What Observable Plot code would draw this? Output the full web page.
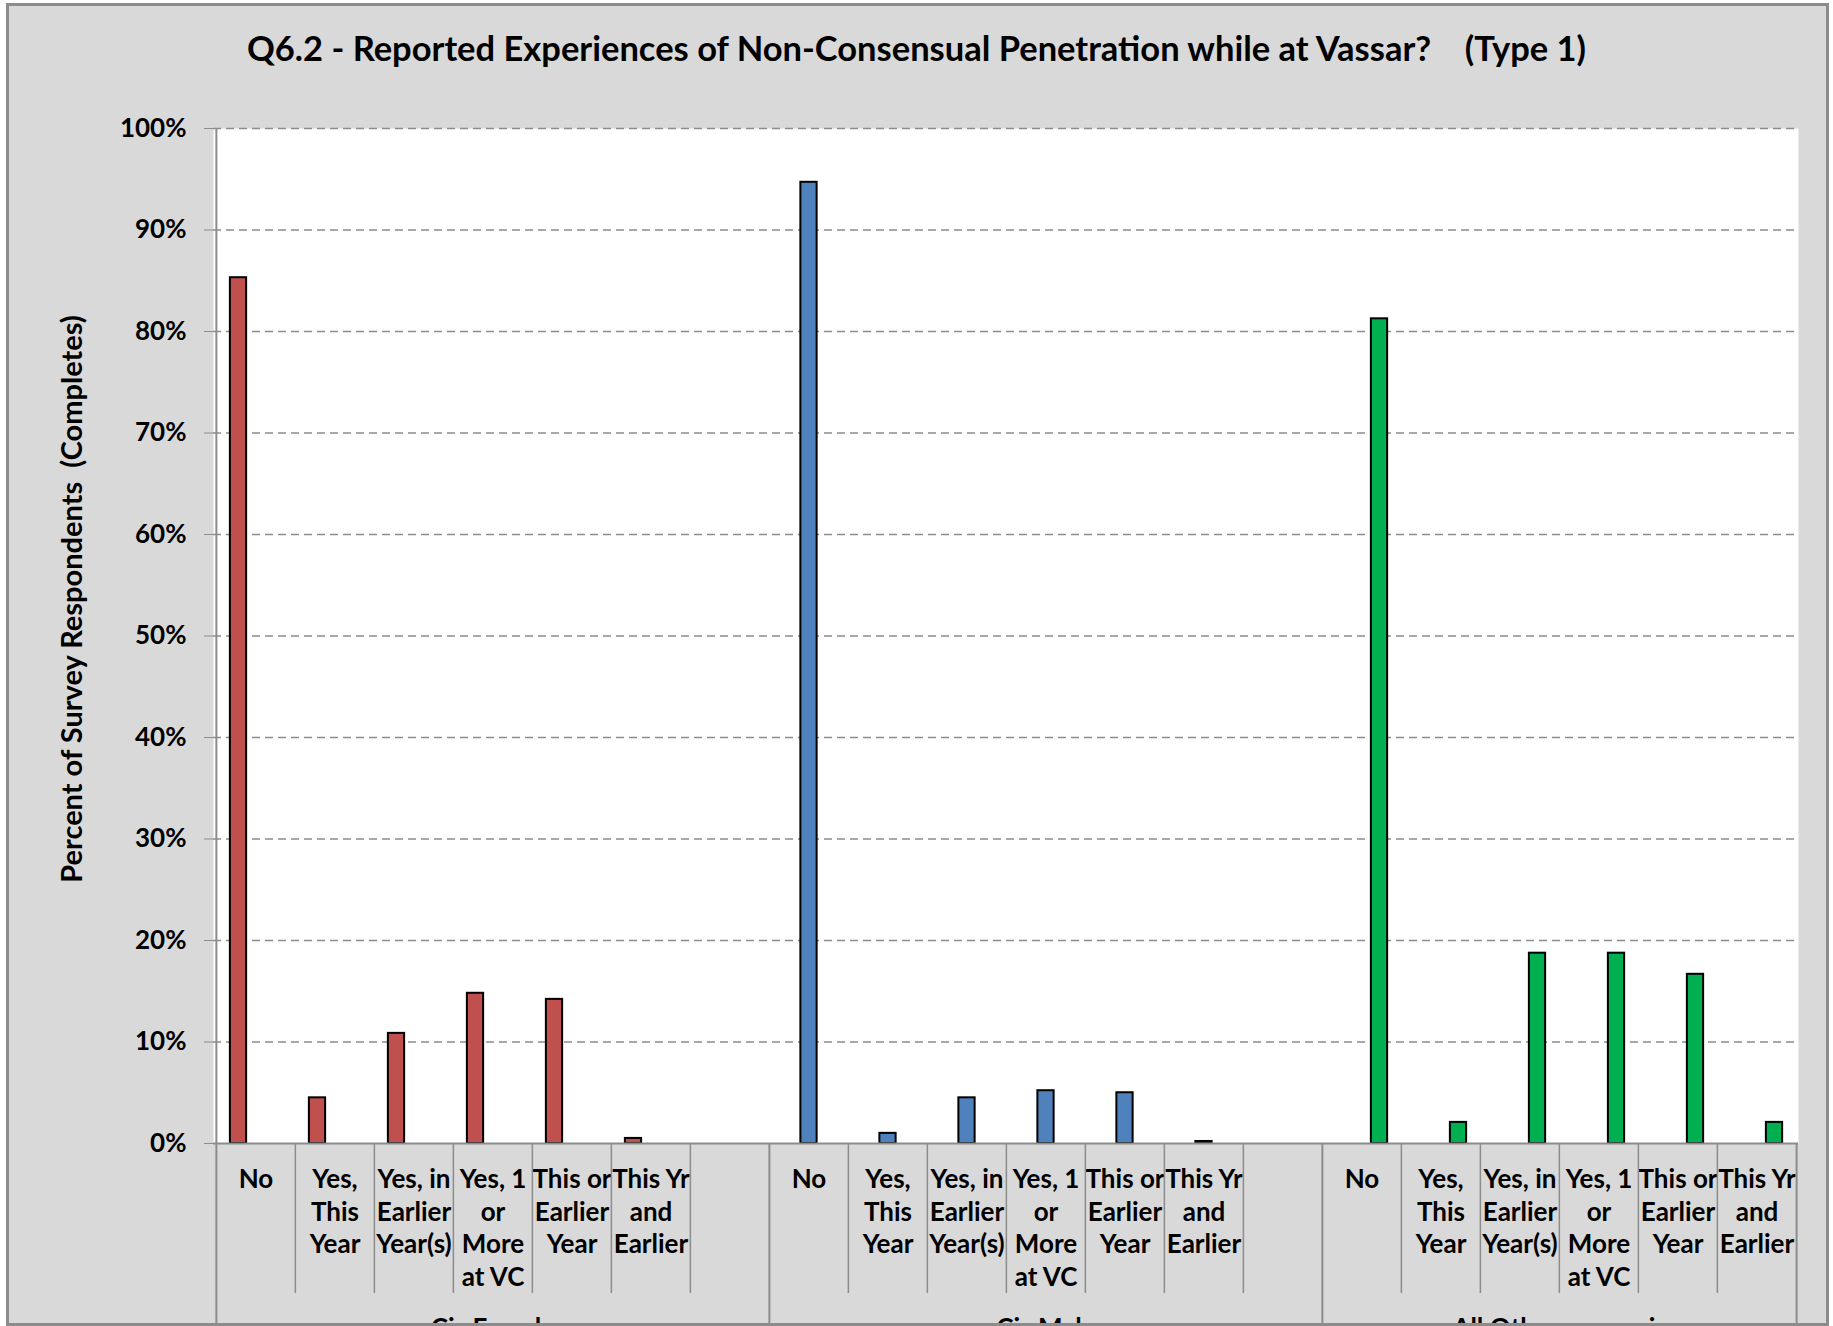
<!DOCTYPE html>
<html>
<head>
<meta charset="utf-8">
<script src="https://cdn.jsdelivr.net/npm/d3@7"></script>
<script src="https://cdn.jsdelivr.net/npm/@observablehq/plot@0.6"></script>
<style>
  html, body { margin: 0; padding: 0; background: #ffffff; }
  #page { position: relative; width: 1833px; height: 1326px; overflow: hidden; background: #ffffff; font-family: Lato, "Open Sans", sans-serif; }
  #bg { position: absolute; left: 6px; top: 3px; width: 1823px; height: 1323px; background: #d9d9d9; }
  #title { position: absolute; left: 0; top: 0; width: 1833px; height: 94px; display: flex; align-items: center; justify-content: center; font-weight: bold; font-size: 34.5px; color: #000; white-space: pre; }
  #chart { position: absolute; left: 0; top: 100px; width: 1833px; height: 1226px; overflow: hidden; }
  #border { position: absolute; left: 6px; top: 3px; width: 1823px; height: 1323px; border: 3px solid #8c8c8c; box-sizing: border-box; pointer-events: none; }
</style>
</head>
<body>
<div id="page">
  <div id="bg"></div>
  <div id="title"></div>
  <div id="chart"></div>
  <div id="border"></div>
</div>
<script>
// ---- data ----
const titleText = "Q6.2 - Reported Experiences of Non-Consensual Penetration while at Vassar?    (Type 1)";
const yAxisTitle = "Percent of Survey Respondents  (Completes)";
const categories = ["No", "Yes, This Year", "Yes, in Earlier Year(s)", "Yes, 1 or More at VC", "This or Earlier Year", "This Yr and Earlier"];
const tickLabels = ["No", "Yes,\nThis\nYear", "Yes, in\nEarlier\nYear(s)", "Yes, 1\nor\nMore\nat VC", "This or\nEarlier\nYear", "This Yr\nand\nEarlier"];
const groups = ["Cis Female", "Cis Male", "All Others, non-cis"];
const cisFemale = [0.853, 0.045, 0.1085, 0.148, 0.142, 0.005];
const cisMale = [0.947, 0.010, 0.045, 0.052, 0.050, 0.002];
const allOthers = [0.8125, 0.0208, 0.1875, 0.1875, 0.1667, 0.0208];
const seriesColors = ["#c0504d", "#4f81bd", "#00b050"];
const yTicks = [0, 0.1, 0.2, 0.3, 0.4, 0.5, 0.6, 0.7, 0.8, 0.9, 1.0];

document.getElementById("title").textContent = titleText;

// ---- derived tables ----
const seriesValues = [cisFemale, cisMale, allOthers];
const slots = groups.flatMap((g, gi) => [
  ...categories.map(c => g + "|" + c),
  ...(gi < groups.length - 1 ? [g + "|"] : [])
]);
const slotLabel = new Map(slots.map(s => {
  const c = s.split("|")[1];
  const i = categories.indexOf(c);
  return [s, i >= 0 ? tickLabels[i] : ""];
}));
const rows = groups.map((g, gi) => categories.map((c, i) => ({slot: g + "|" + c, group: g, value: seriesValues[gi][i]})));
const groupStart = groups.map(g => g + "|" + categories[0]);
const innerBoundaries = slots.filter(s => !groupStart.includes(s));
const groupBoundaries = groupStart.slice(1);

// ---- layout ----
const W = 1833, H = 1226;
const mL = 213, mR = 35, mT = 28, mB = 183;
const bw = (W - mL - mR) / slots.length;
const barInset = (bw - 16.5) / 2;
const offsets = [-17.5, 0, 17.5];
const gridColor = "#8c8c8c";
const font = "Lato, 'Open Sans', sans-serif";

const barMarks = rows.map((r, gi) => Plot.barY(r, {
  x: "slot", y: "value", fill: seriesColors[gi], stroke: "#000", strokeWidth: 2,
  insetLeft: barInset, insetRight: barInset, dx: offsets[gi]
}));

const chart = Plot.plot({
  width: W, height: H,
  marginLeft: mL, marginRight: mR, marginTop: mT, marginBottom: mB,
  style: {background: "transparent", color: "#000", fontFamily: font, fontWeight: "bold", overflow: "hidden"},
  x: {domain: slots, padding: 0, axis: null},
  y: {domain: [0, 1], axis: null},
  marks: [
    Plot.frame({fill: "white", stroke: null}),
    Plot.ruleY(yTicks.filter(t => t > 0), {stroke: gridColor, strokeWidth: 1.5, strokeDasharray: "8,5"}),
    ...barMarks,
    Plot.ruleY([0], {stroke: gridColor, strokeWidth: 2}),
    Plot.axisY(yTicks, {tickFormat: d3.format(".0%"), tickSize: 9, tickPadding: 18, fontSize: 26, stroke: gridColor, fill: "#000", label: null}),
    Plot.axisX(slots, {tickFormat: s => slotLabel.get(s), tickSize: 0, tickPadding: 21, fontSize: 26, lineHeight: 1.26, fill: "#000", label: null}),
    // slot separators below the axis
    Plot.ruleX(innerBoundaries, {x: d => d, y1: 0, y2: 0, dx: -bw / 2, insetBottom: -150, stroke: gridColor, strokeWidth: 1.5}),
    // group separators
    Plot.ruleX(groupBoundaries, {x: d => d, y1: 0, y2: 0, dx: -bw / 2, insetBottom: -200, stroke: gridColor, strokeWidth: 2}),
    Plot.ruleX([slots[slots.length - 1]], {x: d => d, y1: 0, y2: 0, dx: bw / 2, insetBottom: -200, stroke: gridColor, strokeWidth: 2}),
    // value axis line
    Plot.ruleX([slots[0]], {x: d => d, dx: -bw / 2, insetBottom: -200, stroke: gridColor, strokeWidth: 2}),
    // group labels (clipped at the bottom like the original)
    Plot.text([groups[0]], {x: () => slots[3], y: () => 0, text: d => d, dy: 175, lineAnchor: "top", fontSize: 26, fill: "#000"}),
    Plot.text([groups[1]], {x: () => slots[10], y: () => 0, text: d => d, dy: 175, lineAnchor: "top", fontSize: 26, fill: "#000"}),
    Plot.text([groups[2]], {x: () => slots[16], y: () => 0, text: d => d, dx: bw / 2, dy: 175, lineAnchor: "top", fontSize: 26, fill: "#000"}),
    // value axis title
    Plot.text([yAxisTitle], {frameAnchor: "left", textAnchor: "middle", text: d => d, rotate: -90, dx: -141, dy: -37, fontSize: 29, fill: "#000"})
  ]
});
document.getElementById("chart").appendChild(chart);
</script>
</body>
</html>
